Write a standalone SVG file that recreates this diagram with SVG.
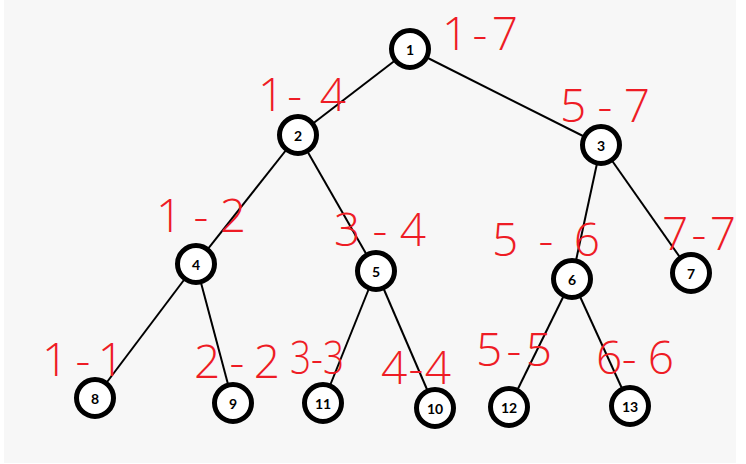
<svg xmlns="http://www.w3.org/2000/svg" width="746" height="464" viewBox="0 0 746 464">
<style>
.bg{fill:#f7f7f7}
.node circle{fill:#fff;stroke:#000;stroke-width:5}
.node text{font-family:Lato,"Liberation Sans",sans-serif;font-weight:bold;font-size:14px;fill:#000;text-anchor:middle;dominant-baseline:central}
#edges line{stroke:#000;stroke-width:2}
.hw{font-family:"Open Sans","DejaVu Sans",sans-serif;font-size:46px;fill:#ee1c25;font-weight:300}
</style>
<rect x="0" y="0" width="746" height="464" fill="#fff"/>
<rect class="bg" x="4" y="0" width="732" height="463"/>
<g id="edges">
<line x1="410" y1="49" x2="298" y2="135"/>
<line x1="410" y1="49" x2="601" y2="145"/>
<line x1="298" y1="135" x2="196" y2="264"/>
<line x1="298" y1="135" x2="376" y2="271"/>
<line x1="601" y1="145" x2="572" y2="279"/>
<line x1="601" y1="145" x2="691" y2="273"/>
<line x1="196" y1="264" x2="95" y2="398"/>
<line x1="196" y1="264" x2="233" y2="403"/>
<line x1="376" y1="271" x2="323" y2="403"/>
<line x1="376" y1="271" x2="435" y2="408"/>
<line x1="572" y1="279" x2="509" y2="407"/>
<line x1="572" y1="279" x2="630" y2="406"/>
</g>
<g id="node1" class="node"><circle cx="410" cy="49" r="18.5"/><text x="410" y="49">1</text></g>
<g id="node2" class="node"><circle cx="298" cy="135" r="18.5"/><text x="298" y="135">2</text></g>
<g id="node3" class="node"><circle cx="601" cy="145" r="18.5"/><text x="601" y="145">3</text></g>
<g id="node4" class="node"><circle cx="196" cy="264" r="18.5"/><text x="196" y="264">4</text></g>
<g id="node5" class="node"><circle cx="376" cy="271" r="18.5"/><text x="376" y="271">5</text></g>
<g id="node6" class="node"><circle cx="572" cy="279" r="18.5"/><text x="572" y="279">6</text></g>
<g id="node7" class="node"><circle cx="691" cy="273" r="18.5"/><text x="691" y="273">7</text></g>
<g id="node8" class="node"><circle cx="95" cy="398" r="18.5"/><text x="95" y="398">8</text></g>
<g id="node9" class="node"><circle cx="233" cy="403" r="18.5"/><text x="233" y="403">9</text></g>
<g id="node11" class="node"><circle cx="323" cy="403" r="18.5"/><text x="323" y="403">11</text></g>
<g id="node10" class="node"><circle cx="435" cy="408" r="18.5"/><text x="435" y="408">10</text></g>
<g id="node12" class="node"><circle cx="509" cy="407" r="18.5"/><text x="509" y="407">12</text></g>
<g id="node13" class="node"><circle cx="630" cy="406" r="18.5"/><text x="630" y="406">13</text></g>
<g id="labels">
<text class="hw" x="442" y="50" textLength="76" lengthAdjust="spacing">1-7</text>
<text class="hw" x="258" y="111" textLength="88" lengthAdjust="spacing">1- 4</text>
<text class="hw" x="560" y="122" textLength="90" lengthAdjust="spacing">5-7</text>
<text class="hw" x="156" y="232" textLength="90" lengthAdjust="spacing">1-2</text>
<text class="hw" x="334" y="246" textLength="92" lengthAdjust="spacing">3-4</text>
<text class="hw" x="492" y="256" textLength="108" lengthAdjust="spacing">5-6</text>
<text class="hw" x="662" y="250" textLength="74" lengthAdjust="spacing">7-7</text>
<text class="hw" x="42" y="376" textLength="82" lengthAdjust="spacing">1-1</text>
<text class="hw" x="194" y="378" textLength="86" lengthAdjust="spacing">2-2</text>
<text class="hw" x="290" y="374" font-size="40" textLength="54" lengthAdjust="spacingAndGlyphs">3-3</text>
<text class="hw" x="381" y="384" textLength="70" lengthAdjust="spacing">4-4</text>
<text class="hw" x="476" y="366" textLength="76" lengthAdjust="spacing">5-5</text>
<text class="hw" x="596" y="374" textLength="78" lengthAdjust="spacing">6- 6</text>
</g>
</svg>
